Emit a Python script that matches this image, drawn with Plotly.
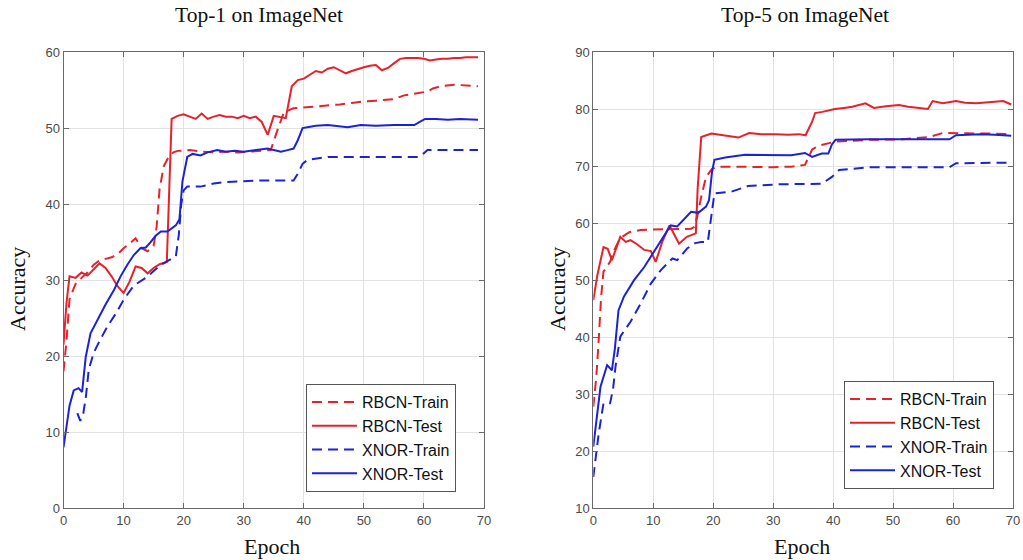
import plotly.graph_objects as go

# ---------------- data ----------------
# Top-1 on ImageNet
t1_rbcn_train_x = [0, 0.5, 1, 2, 3, 4, 5, 6, 7, 8, 9, 10, 11, 12, 13, 14, 15, 15.5, 16, 16.7, 17.5, 18.3, 19, 21, 23, 25, 27, 29, 31, 33, 34.5, 35.6, 36.7, 38.3, 40, 42, 44, 46, 48, 50, 52, 55, 56.7, 58, 60.6, 61.5, 62.8, 65, 67, 69]
t1_rbcn_train_y = [18, 22, 27.5, 29.5, 30.3, 31.0, 32.0, 32.6, 32.8, 33.0, 33.4, 34.2, 34.8, 35.5, 34.2, 33.8, 34.5, 37, 42, 45, 46.2, 46.8, 47.0, 47.1, 46.9, 46.8, 46.9, 46.8, 46.9, 47.0, 47.1, 49.7, 52.1, 52.6, 52.7, 52.9, 53.0, 53.1, 53.3, 53.5, 53.6, 53.8, 54.3, 54.5, 54.8, 55.2, 55.5, 55.7, 55.6, 55.5]

t1_rbcn_test_x = [0, 0.5, 1, 2, 3, 4, 5, 6, 7, 8, 9, 10, 11, 12, 13, 14, 15, 16, 17.2, 18, 19, 20, 21, 22, 23, 24, 25, 26, 27, 28, 29, 30, 31, 32, 33, 34, 35, 36, 37, 38, 39, 40, 41, 42, 43, 44, 45, 46, 47, 48, 49, 50, 51, 52, 53, 54, 55, 56, 57, 58, 59, 60, 61, 62, 63, 64, 65, 66, 67, 68, 69]
t1_rbcn_test_y = [21.5, 27, 30.5, 30.3, 31.0, 30.6, 31.4, 32.2, 31.6, 30.5, 29.2, 28.3, 29.8, 31.8, 31.6, 30.9, 31.6, 32.1, 32.4, 51.2, 51.6, 51.8, 51.5, 51.2, 51.9, 51.2, 51.5, 51.7, 51.5, 51.5, 51.3, 51.6, 51.3, 51.5, 50.8, 49.1, 51.6, 51.4, 51.3, 55.5, 56.3, 56.5, 57.0, 57.5, 57.3, 57.8, 58.0, 57.6, 57.2, 57.5, 57.8, 58.0, 58.2, 58.3, 57.6, 57.9, 58.5, 59.1, 59.2, 59.2, 59.2, 59.1, 58.9, 59.0, 59.1, 59.1, 59.2, 59.2, 59.3, 59.3, 59.3]

t1_xnor_train_x = [2.3, 2.8, 3.3, 3.7, 4.2, 5, 6, 7.3, 8.7, 10, 11.7, 13, 13.9, 15, 16.2, 17.5, 18.7, 19.2, 19.6, 20, 20.6, 22.8, 25, 27, 29, 32, 35, 38.3, 39, 39.8, 40.6, 42, 44, 50, 55, 59, 60, 60.6, 65, 69]
t1_xnor_train_y = [12.5, 11.5, 12.5, 14.5, 18.2, 20.4, 22.0, 23.9, 25.6, 27.4, 29.3, 30.0, 30.4, 31.2, 32.0, 32.6, 33.1, 36, 40, 41.8, 42.3, 42.3, 42.7, 42.9, 43.0, 43.1, 43.1, 43.1, 44, 45.3, 45.8, 46.0, 46.2, 46.2, 46.2, 46.2, 46.7, 47.1, 47.1, 47.1]

t1_xnor_test_x = [0, 0.5, 1, 1.7, 2.5, 3.1, 3.7, 4.5, 5.5, 6.2, 7, 8.4, 9.5, 10.6, 11.7, 12.8, 13.7, 14.5, 15.3, 16.2, 17.3, 18.7, 19.3, 19.8, 20.6, 21.5, 22.8, 24, 25.6, 27, 28.5, 30, 32, 34, 35, 36.2, 37.3, 38.3, 39, 39.8, 40.6, 42, 44, 45.5, 47.3, 49.5, 52, 55, 58.4, 59.3, 60.2, 62, 64, 66, 69]
t1_xnor_test_y = [8.0, 10.5, 13.5, 15.5, 15.8, 15.3, 19.9, 23.0, 24.6, 25.6, 26.8, 28.7, 30.5, 32.0, 33.3, 34.2, 34.3, 35.0, 35.8, 36.4, 36.4, 37.2, 38, 43, 46.2, 46.6, 46.4, 46.8, 47.1, 46.9, 47.0, 46.9, 47.1, 47.3, 47.1, 46.9, 47.1, 47.3, 48.4, 50.0, 50.1, 50.3, 50.4, 50.3, 50.1, 50.4, 50.3, 50.4, 50.4, 50.8, 51.2, 51.2, 51.1, 51.2, 51.1]

# Top-5 on ImageNet
t5_rbcn_train_x = [0, 0.5, 0.9, 1.3, 1.7, 2.8, 3.6, 4.5, 6, 7.9, 10, 12.9, 16.3, 16.8, 17.3, 18, 18.8, 19.8, 20.8, 23, 26.4, 30, 33, 35.3, 36.5, 37.6, 40.4, 43, 46, 51.6, 56, 58.3, 62, 66, 69.7]
t5_rbcn_train_y = [27.8, 33, 39.5, 47, 51.5, 53.2, 55.5, 57.4, 58.4, 58.8, 58.9, 59.0, 59.0, 59.3, 61, 64.6, 68.1, 69.5, 69.9, 69.9, 69.8, 69.8, 69.9, 70.2, 72.9, 73.6, 74.3, 74.5, 74.6, 74.7, 75.1, 75.8, 75.8, 75.7, 75.6]

t5_rbcn_test_x = [0, 0.7, 1.7, 2.4, 3.1, 3.8, 4.5, 5.4, 6.2, 7.3, 8.5, 9.6, 10.4, 11.5, 12.7, 13.5, 14.3, 15.6, 17.1, 17.4, 18, 19.7, 22, 24.2, 26, 28, 30.5, 32.5, 34.3, 35.4, 36.5, 37, 38.2, 40.3, 41.8, 43.2, 45.4, 46.8, 48.8, 51, 52.5, 54.4, 55.8, 56.6, 58.3, 60.5, 62, 63.9, 66, 68.4, 69.7]
t5_rbcn_test_y = [46.5, 51, 55.8, 55.5, 53.5, 55.5, 57.6, 56.7, 57.0, 56.3, 55.3, 55.1, 53.2, 56.7, 59.6, 58, 56.4, 57.6, 58.2, 66, 75.1, 75.7, 75.4, 75.0, 75.8, 75.6, 75.6, 75.5, 75.6, 75.4, 77.8, 79.3, 79.5, 80.0, 80.2, 80.4, 81.0, 80.2, 80.5, 80.7, 80.4, 80.2, 80.0, 81.4, 81.0, 81.4, 81.1, 81.0, 81.2, 81.4, 80.8]

t5_xnor_train_x = [0, 0.9, 1.7, 2.8, 3.3, 3.7, 4.5, 6.2, 7.9, 9.6, 11.3, 13.2, 14, 15.7, 17, 18, 19.1, 19.5, 19.9, 20.2, 23, 25.8, 30.8, 35.9, 38.1, 39.8, 41, 46, 52, 59.4, 60.5, 65, 69.4]
t5_xnor_train_y = [15.5, 23.1, 28.4, 28.4, 31, 34.8, 40.1, 42.7, 45.9, 49.4, 51.8, 53.8, 53.5, 55.6, 56.5, 56.7, 56.7, 59.5, 63, 65.2, 65.5, 66.5, 66.8, 66.9, 66.9, 68.1, 69.3, 69.8, 69.8, 69.8, 70.5, 70.6, 70.6]

t5_xnor_test_x = [0, 0.6, 1.2, 2.3, 3.1, 3.6, 4.2, 5.1, 6, 6.8, 8.5, 10.1, 11.3, 12.9, 14, 15.2, 16.3, 17.5, 18.8, 19.3, 19.8, 20.2, 22, 25.3, 29, 33, 35.3, 36.5, 38.1, 39.2, 39.8, 40.4, 46, 52, 59.4, 60.5, 64.5, 67, 69.7]
t5_xnor_test_y = [20.8, 26, 31.3, 35.1, 34.2, 38, 44.7, 47.1, 48.6, 50.0, 52.3, 55.0, 57.0, 59.6, 59.4, 60.8, 62.0, 61.8, 62.9, 64, 69, 71.1, 71.5, 72.0, 72.0, 71.9, 72.3, 71.6, 72.2, 72.2, 73.8, 74.6, 74.7, 74.7, 74.7, 75.4, 75.6, 75.5, 75.3]

series_names = ["RBCN-Train", "RBCN-Test", "XNOR-Train", "XNOR-Test"]
x_ticks = [0, 10, 20, 30, 40, 50, 60, 70]
y1_ticks = [0, 10, 20, 30, 40, 50, 60]
y5_ticks = [10, 20, 30, 40, 50, 60, 70, 80, 90]
titles = ["Top-1 on ImageNet", "Top-5 on ImageNet"]

# ---------------- styling ----------------
RED = "#e8202a"
BLUE = "#1c22d8"
DASH = "10px,6px"
W, H = 1023, 560
SERIF = "Liberation Serif, Times New Roman, serif"
SANS = "Liberation Sans, Arial, sans-serif"

fig = go.Figure()

panels = [
    ("x", "y", "legend",
     [(t1_rbcn_train_x, t1_rbcn_train_y), (t1_rbcn_test_x, t1_rbcn_test_y),
      (t1_xnor_train_x, t1_xnor_train_y), (t1_xnor_test_x, t1_xnor_test_y)]),
    ("x2", "y2", "legend2",
     [(t5_rbcn_train_x, t5_rbcn_train_y), (t5_rbcn_test_x, t5_rbcn_test_y),
      (t5_xnor_train_x, t5_xnor_train_y), (t5_xnor_test_x, t5_xnor_test_y)]),
]
styles = [(RED, DASH), (RED, "solid"), (BLUE, DASH), (BLUE, "solid")]

for xa, ya, lg, data in panels:
    for name, (xs, ys), (col, dash) in zip(series_names, data, styles):
        fig.add_trace(go.Scatter(
            x=xs, y=ys, mode="lines", name=name, xaxis=xa, yaxis=ya,
            legend=lg, line=dict(color=col, width=2, dash=dash),
        ))

axis_common = dict(
    showgrid=True, gridcolor="#e2e2e2", gridwidth=1,
    showline=True, linecolor="#6a6a6a", linewidth=1, mirror="ticks",
    ticks="inside", ticklen=5, tickcolor="#6a6a6a", tickwidth=1,
    tickfont=dict(family=SANS, size=13, color="#4a4a4a"),
    zeroline=False, fixedrange=True, automargin=False,
)

def px(x):
    return x / W

def py(y):
    return 1 - y / H

legend_common = dict(
    xanchor="left", yanchor="top",
    bgcolor="white", bordercolor="#555555", borderwidth=1,
    font=dict(family=SANS, size=16, color="#111111"),
    tracegroupgap=0, itemwidth=45,
)

fig.update_layout(
    width=W, height=H,
    margin=dict(l=0, r=0, t=0, b=0, pad=0, autoexpand=False),
    paper_bgcolor="white", plot_bgcolor="white",
    xaxis=dict(domain=[px(63.5), px(484)], range=[0, 70], tickvals=x_ticks,
               anchor="y", **axis_common),
    yaxis=dict(domain=[py(508.3), py(52)], range=[0, 60], tickvals=y1_ticks,
               anchor="x", **axis_common),
    xaxis2=dict(domain=[px(593.3), px(1013)], range=[0, 70], tickvals=x_ticks,
                anchor="y2", **axis_common),
    yaxis2=dict(domain=[py(508.3), py(52)], range=[10, 90], tickvals=y5_ticks,
                anchor="x2", **axis_common),
    legend=dict(x=px(306), y=py(384), **legend_common),
    legend2=dict(x=px(844), y=py(381), **legend_common),
    showlegend=True,
)

ann = []
for txt, cx in zip(titles, [259, 805]):
    ann.append(dict(text=txt, x=px(cx), y=py(15), xref="paper", yref="paper",
                    showarrow=False, xanchor="center", yanchor="middle",
                    font=dict(family=SERIF, size=21.5, color="#111111")))
for cx in [272, 802]:
    ann.append(dict(text="Epoch", x=px(cx), y=py(546), xref="paper", yref="paper",
                    showarrow=False, xanchor="center", yanchor="middle",
                    font=dict(family=SERIF, size=22, color="#111111")))
for cx in [17, 557]:
    ann.append(dict(text="Accuracy", x=px(cx), y=py(289), xref="paper", yref="paper",
                    showarrow=False, xanchor="center", yanchor="middle", textangle=-90,
                    font=dict(family=SERIF, size=22, color="#111111")))
fig.update_layout(annotations=ann)

fig.write_html("out.html", config={"displayModeBar": False},
               post_script="document.body.style.margin='0px';")
